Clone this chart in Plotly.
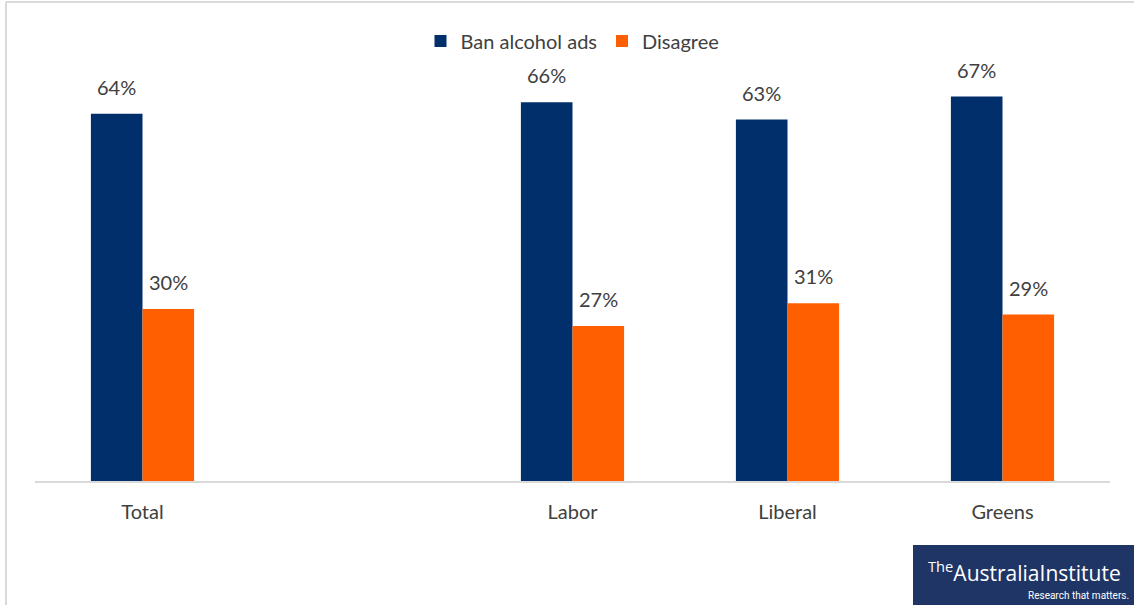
import plotly.graph_objects as go

# Survey results by voting intention
categories = ["Total", "Labor", "Liberal", "Greens"]
axis_order = ["Total", " ", "Labor", "Liberal", "Greens"]
ban_ads = [64, 66, 63, 67]
disagree = [30, 27, 31, 29]

W, H = 1134, 605
M_L, M_R, M_T, M_B = 35, 24, 22, 124
plot_w = W - M_L - M_R
plot_h = H - M_T - M_B

NAVY = "#002f6c"
ORANGE = "#ff5f00"
TEXT = "#404040"
FONT = "Lato"
FS = 20

fig = go.Figure()
fig.add_trace(go.Bar(name="Ban alcohol ads", x=categories, y=ban_ads,
                     marker=dict(color=NAVY, line=dict(width=0))))
fig.add_trace(go.Bar(name="Disagree", x=categories, y=disagree,
                     marker=dict(color=ORANGE, line=dict(width=0))))

bargap = 0.52
slot_px = plot_w / len(axis_order)
bar_px = slot_px * (1 - bargap) / 2

# Value labels above each bar
annotations = []
for vals, shift in ((ban_ads, -bar_px / 2), (disagree, bar_px / 2)):
    for c, v in zip(categories, vals):
        annotations.append(dict(x=c, y=v, xref="x", yref="y", text=f"{v}%",
                                showarrow=False, yanchor="bottom",
                                xshift=shift, yshift=13,
                                font=dict(family=FONT, size=FS, color=TEXT)))

def px_x(p):
    return (p - M_L) / plot_w

def px_y(p):
    return (H - M_B - p) / plot_h

# Logo block in the bottom-right corner
annotations.append(dict(xref="paper", yref="paper", x=px_x(1024), y=px_y(571),
                        text="<sup style='font-size:11px'>The</sup>AustraliaInstitute",
                        showarrow=False, xanchor="center", yanchor="middle",
                        font=dict(family="Open Sans", size=21, color="white")))
annotations.append(dict(xref="paper", yref="paper", x=px_x(1131), y=px_y(595),
                        text="Research that matters.", showarrow=False,
                        xanchor="right", yanchor="middle",
                        font=dict(family="Roboto", size=10, color="white")))

shapes = [
    # outer frame (left and top edges)
    dict(type="line", xref="paper", yref="paper", x0=px_x(6), x1=px_x(6),
         y0=px_y(2), y1=px_y(H), line=dict(color="#d9d9d9", width=2)),
    dict(type="line", xref="paper", yref="paper", x0=px_x(6), x1=px_x(W),
         y0=px_y(2), y1=px_y(2), line=dict(color="#d9d9d9", width=2)),
    # logo background
    dict(type="rect", xref="paper", yref="paper", x0=px_x(913), x1=px_x(W),
         y0=px_y(545), y1=px_y(H), fillcolor="#1f3566", line=dict(width=0), layer="above"),
]

fig.update_layout(
    width=W, height=H,
    margin=dict(l=M_L, r=M_R, t=M_T, b=M_B),
    paper_bgcolor="white", plot_bgcolor="white",
    barmode="group", bargap=bargap, bargroupgap=0,
    font=dict(family=FONT, size=FS, color=TEXT),
    legend=dict(orientation="h", x=0.5, xanchor="center", y=px_y(41),
                yanchor="middle", font=dict(family=FONT, size=FS, color=TEXT),
                itemwidth=30, traceorder="normal"),
    xaxis=dict(categoryorder="array", categoryarray=axis_order,
               range=[-0.5, len(axis_order) - 0.5],
               showline=True, linecolor="#d9d9d9", linewidth=2,
               ticks="", showgrid=False, zeroline=False,
               tickfont=dict(family=FONT, size=FS, color=TEXT), ticklabelstandoff=12),
    yaxis=dict(range=[0, 80], visible=False, showgrid=False, zeroline=False),
    annotations=annotations,
    shapes=shapes,
)

fig.write_html("out.html")
